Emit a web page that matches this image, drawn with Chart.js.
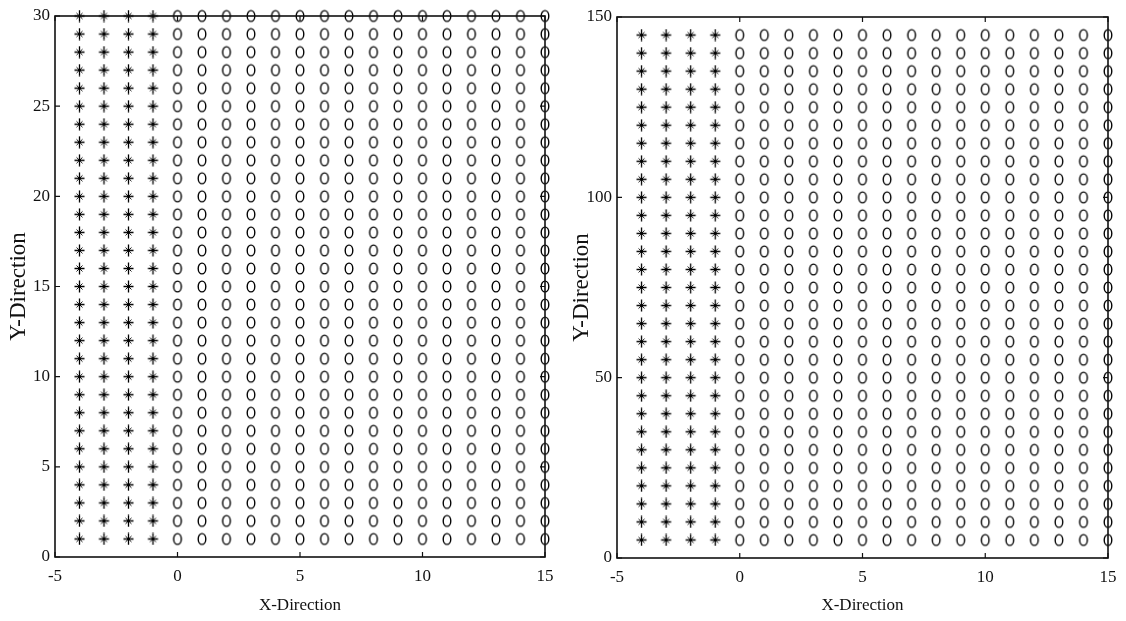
<!DOCTYPE html>
<html>
<head>
<meta charset="utf-8">
<script src="https://cdn.jsdelivr.net/npm/chart.js@4.4.1/dist/chart.umd.min.js"></script>
<style>
  html, body { margin: 0; padding: 0; background: #fff; }
  #wrap { position: relative; width: 1126px; height: 621px; }
  canvas { position: absolute; top: 0; }
  #left { left: 0; }
  #right { left: 563px; }
</style>
</head>
<body>
<div id="wrap">
  <canvas id="left" width="563" height="621"></canvas>
  <canvas id="right" width="563" height="621"></canvas>
</div>
<script>
// grid columns
const starX = [-4, -3, -2, -1];
const circleX = [0, 1, 2, 3, 4, 5, 6, 7, 8, 9, 10, 11, 12, 13, 14, 15];
// grid rows
const rowsLeft = [1, 2, 3, 4, 5, 6, 7, 8, 9, 10, 11, 12, 13, 14, 15, 16, 17, 18, 19, 20,
  21, 22, 23, 24, 25, 26, 27, 28, 29, 30];
const rowsRight = [5, 10, 15, 20, 25, 30, 35, 40, 45, 50, 55, 60, 65, 70, 75, 80, 85, 90, 95, 100,
  105, 110, 115, 120, 125, 130, 135, 140, 145];
// axis ranges
const xRange = [-5, 15];
const yRangeLeft = [0, 30];
const yRangeRight = [0, 150];

const serif = "'Liberation Serif', 'DejaVu Serif', serif";
const ink = "#111";

// tall open ellipse used as the circle marker
function ellipseMarker() {
  const c = document.createElement("canvas");
  c.width = 12; c.height = 15;
  const g = c.getContext("2d");
  g.strokeStyle = "#000";
  g.lineWidth = 1.4;
  g.beginPath();
  g.ellipse(6, 7.5, 3.8, 5.4, 0, 0, Math.PI * 2);
  g.stroke();
  return c;
}

// asterisk: long upright cross, light diagonals, heavy centre
function starMarker() {
  const c = document.createElement("canvas");
  c.width = 13; c.height = 13;
  const g = c.getContext("2d");
  g.strokeStyle = "#000";
  g.lineWidth = 1.3;
  g.beginPath();
  g.moveTo(6.5, 0.5); g.lineTo(6.5, 12.5);
  g.moveTo(1.5, 6.5); g.lineTo(11.5, 6.5);
  g.stroke();
  g.lineWidth = 0.9;
  g.beginPath();
  g.moveTo(3.5, 3.5); g.lineTo(9.5, 9.5);
  g.moveTo(9.5, 3.5); g.lineTo(3.5, 9.5);
  g.stroke();
  g.fillStyle = "#000";
  g.beginPath();
  g.arc(6.5, 6.5, 1.6, 0, Math.PI * 2);
  g.fill();
  return c;
}

const ellipse = ellipseMarker();
const star = starMarker();

function grid(xs, ys) {
  const pts = [];
  xs.forEach(x => ys.forEach(y => pts.push({ x, y })));
  return pts;
}

// box frame with inward ticks on all four sides
const framePlugin = {
  id: "frame",
  afterDatasetsDraw(chart) {
    const { ctx, chartArea: a, scales } = chart;
    ctx.save();
    ctx.strokeStyle = ink;
    ctx.lineWidth = 1.6;
    ctx.strokeRect(a.left, a.top, a.right - a.left, a.bottom - a.top);
    ctx.lineWidth = 1.2;
    ctx.beginPath();
    scales.x.ticks.forEach(t => {
      const px = scales.x.getPixelForValue(t.value);
      ctx.moveTo(px, a.bottom); ctx.lineTo(px, a.bottom - 5);
      ctx.moveTo(px, a.top); ctx.lineTo(px, a.top + 5);
    });
    scales.y.ticks.forEach(t => {
      const py = scales.y.getPixelForValue(t.value);
      ctx.moveTo(a.left, py); ctx.lineTo(a.left + 5, py);
      ctx.moveTo(a.right, py); ctx.lineTo(a.right - 5, py);
    });
    ctx.stroke();
    ctx.restore();
  }
};

function makeChart(id, rows, yRange, yStep, box) {
  new Chart(document.getElementById(id), {
    type: "scatter",
    data: {
      datasets: [
        { data: grid(starX, rows), pointStyle: star, radius: 6, clip: false },
        { data: grid(circleX, rows), pointStyle: ellipse, radius: 6, clip: false }
      ]
    },
    options: {
      responsive: false,
      animation: false,
      events: [],
      layout: { padding: { top: box.top, right: 563 - box.right, left: 0, bottom: 0 } },
      plugins: { legend: { display: false }, tooltip: { enabled: false } },
      scales: {
        x: {
          type: "linear",
          min: xRange[0], max: xRange[1],
          grid: { display: false, drawTicks: false },
          border: { display: false },
          ticks: { stepSize: 5, padding: 9, color: ink, font: { family: serif, size: 17 } },
          title: { display: true, text: "X-Direction", color: ink, padding: { top: 0, bottom: 5 },
            font: { family: serif, size: 17 } },
          afterFit(s) { s.height = 621 - box.bottom; }
        },
        y: {
          type: "linear",
          min: yRange[0], max: yRange[1],
          grid: { display: false, drawTicks: false },
          border: { display: false },
          ticks: { stepSize: yStep, padding: 5, color: ink, font: { family: serif, size: 17 } },
          title: { display: true, text: "Y-Direction", color: ink, padding: { top: 5, bottom: 0 },
            font: { family: serif, size: 23 } },
          afterFit(s) { s.width = box.left; }
        }
      }
    },
    plugins: [framePlugin]
  });
}

makeChart("left", rowsLeft, yRangeLeft, 5, { left: 55, right: 545, top: 16, bottom: 557 });
makeChart("right", rowsRight, yRangeRight, 50, { left: 54, right: 545, top: 17, bottom: 558 });
</script>
</body>
</html>
